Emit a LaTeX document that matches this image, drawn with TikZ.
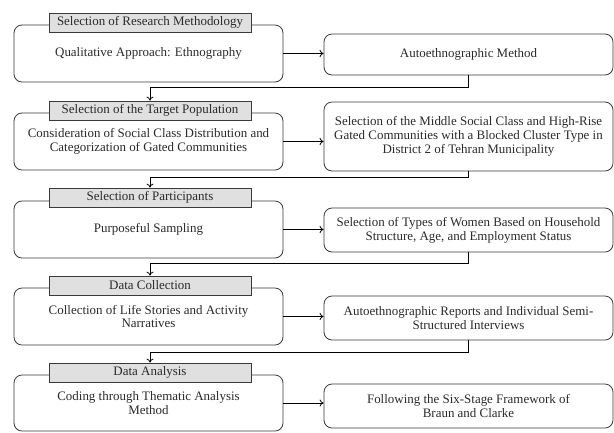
\documentclass[tikz,border=0pt]{standalone}
\usepackage{fontspec}
\setmainfont{Liberation Serif}
\usetikzlibrary{arrows.meta}
\definecolor{edge}{HTML}{3A3A3A}
\definecolor{hdrfill}{HTML}{E0E0E0}
\definecolor{txt}{HTML}{2A2A2A}
\begin{document}
\begin{tikzpicture}[x=1bp,y=-1bp,
  every node/.style={font=\fontsize{13}{14}\selectfont, text=txt, inner sep=0pt, align=center},
  mainbox/.style={draw=edge, line width=0.8bp, rounded corners=8bp, minimum width=269bp, minimum height=57bp},
  sidebox/.style={draw=edge, line width=0.8bp, rounded corners=8bp, minimum width=289bp},
  hdrbox/.style={draw=edge, line width=0.8bp, fill=hdrfill, minimum width=202bp, minimum height=19bp},
  arr/.style={draw=black, line width=0.8bp, -{To[length=4bp,width=7bp]}},
  link/.style={draw=black, line width=0.8bp}]
\useasboundingbox (0,0) rectangle (614,432);

% left boxes
\node[mainbox] (L1) at (148.5,53.5) {Qualitative Approach: Ethnography};
\node[mainbox] (L2) at (148.5,141.5) {Consideration of Social Class Distribution and\\Categorization of Gated Communities};
\node[mainbox] (L3) at (148.5,229.5) {Purposeful Sampling};
\node[mainbox] (L4) at (148.5,316.5) {Collection of Life Stories and Activity\\Narratives};
\node[mainbox, minimum height=56bp] (L5) at (148.5,403) {Coding through Thematic Analysis\\Method};

% headers
\node[hdrbox] (H1) at (150,22.5) {Selection of Research Methodology};
\node[hdrbox] (H2) at (150,110.5) {Selection of the Target Population};
\node[hdrbox] (H3) at (150,197.5) {Selection of Participants};
\node[hdrbox] (H4) at (150,285.5) {Data Collection};
\node[hdrbox] (H5) at (150,372.5) {Data Analysis};

% right boxes
\node[sidebox, minimum height=41bp] (R1) at (468.5,54.5) {Autoethnographic Method};
\node[sidebox, minimum height=69bp] (R2) at (468.5,136.5) {Selection of the Middle Social Class and High-Rise\\Gated Communities with a Blocked Cluster Type in\\District 2 of Tehran Municipality};
\node[sidebox, minimum height=44bp] (R3) at (468.5,230) {Selection of Types of Women Based on Household\\Structure, Age, and Employment Status};
\node[sidebox, minimum height=44bp] (R4) at (468.5,318) {Autoethnographic Reports and Individual Semi-\\Structured Interviews};
\node[sidebox, minimum height=44bp] (R5) at (468.5,406) {Following the Six-Stage Framework of\\Braun and Clarke};

% horizontal arrows
\draw[arr] (L1.east) -- (L1.east -| R1.west);
\draw[arr] (L2.east) -- (L2.east -| R2.west);
\draw[arr] (L3.east) -- (L3.east -| R3.west);
\draw[arr] (L4.east) -- (L4.east -| R4.west);
\draw[arr] (L5.east) -- (L5.east -| R5.west);

% return connectors
\coordinate (T1) at (0,87);
\coordinate (T2) at (0,177);
\coordinate (T3) at (0,263);
\coordinate (T4) at (0,352);
\draw[arr] (R1.south) -- (R1.south |- T1) -- (H2.north |- T1) -- (H2.north);
\draw[arr] (R2.south) -- (R2.south |- T2) -- (H3.north |- T2) -- (H3.north);
\draw[arr] (R3.south) -- (R3.south |- T3) -- (H4.north |- T3) -- (H4.north);
\draw[arr] (R4.south) -- (R4.south |- T4) -- (H5.north |- T4) -- (H5.north);
\end{tikzpicture}
\end{document}
